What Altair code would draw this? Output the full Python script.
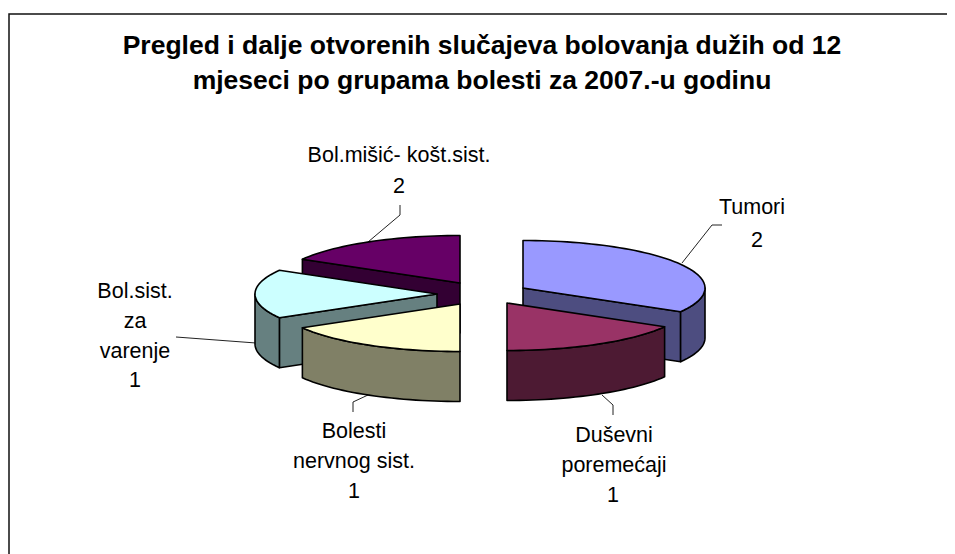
import math
import altair as alt

# ---- data ----
categories = ["Tumori", "Duševni poremećaji", "Bolesti nervnog sist.", "Bol.sist. za varenje", "Bol.mišić- košt.sist."]
printed_values = [2, 1, 1, 1, 2]
# share of the pie each slice really occupies in the picture
drawn_shares = [2, 1, 1, 1, 1]
top_colors = ["#9999FF", "#993366", "#FFFFCC", "#CCFFFF", "#660066"]
side_colors = ["#4D4D80", "#4D1A33", "#808066", "#668080", "#330033"]
apex_x = [523, 507, 460, 437, 460]
apex_y = [288, 303, 304, 294, 283]
paint_order = [4, 0, 3, 2, 1]

title_lines = ["Pregled i dalje otvorenih slučajeva bolovanja dužih od 12",
               "mjeseci po grupama bolesti za 2007.-u godinu"]
title_x = [482, 482]
title_y = [54, 89]

label_text = ["Tumori", "2", "Duševni", "poremećaji", "1", "Bolesti", "nervnog sist.", "1",
              "Bol.sist.", "za", "varenje", "1", "Bol.mišić- košt.sist.", "2"]
label_x = [752, 757, 614, 614, 613, 354, 354, 354, 135, 135, 135, 135, 399, 399]
label_y = [214, 247, 442, 472, 502, 438, 468, 498, 298, 328, 358, 387, 162, 193]

leaders = [
    [(682, 263), (712, 225), (722, 225)],
    [(602, 395), (613, 405), (613, 415)],
    [(368, 395), (353, 402), (353, 412)],
    [(256, 343), (176, 337)],
    [(368, 242), (400, 215), (400, 205)],
]
frame = [[(9, 554), (9, 14), (955, 14)]]

RX, RY, DEPTH = 182, 47.5, 50
W, H = 939, 546


def rim(i, t, dz=0):
    r = math.radians(t)
    return [apex_x[i] + RX * math.sin(r), apex_y[i] - RY * math.cos(r) + dz]


def arc(i, a, b, dz=0):
    n = max(2, int(abs(b - a) / 2))
    return [rim(i, a + (b - a) * k / n, dz) for k in range(n + 1)]


def poly(points, fill):
    return {"type": "Feature", "properties": {"fill": fill},
            "geometry": {"type": "Polygon", "coordinates": [points + [points[0]]]}}


def line(points):
    return {"type": "Feature", "properties": {},
            "geometry": {"type": "LineString", "coordinates": [list(p) for p in points]}}


total = sum(drawn_shares)
starts, s = [], 0.0
for v in drawn_shares:
    starts.append(s)
    s += v / total * 360

shapes = []
for i in paint_order:
    a, b = starts[i], starts[i] + drawn_shares[i] / total * 360
    apex = [apex_x[i], apex_y[i]]
    low = [apex_x[i], apex_y[i] + DEPTH]
    if 180 < a < 360:  # wall along the start edge faces the viewer
        p = rim(i, a)
        shapes.append(poly([apex, p, [p[0], p[1] + DEPTH], low], side_colors[i]))
    if 0 < b < 180:  # wall along the end edge faces the viewer
        p = rim(i, b)
        shapes.append(poly([apex, p, [p[0], p[1] + DEPTH], low], side_colors[i]))
    # visible part of the outer rim
    f0, f1 = max(a, 90), min(b, 270)
    if f1 > f0:
        up = arc(i, f0, f1)
        down = arc(i, f1, f0, DEPTH)
        shapes.append(poly(up + down, side_colors[i]))
    shapes.append(poly([apex] + arc(i, a, b), top_colors[i]))

proj = alt.Projection(type="identity", scale=1, translate=[-8, -8])

pie = (
    alt.Chart(alt.Data(values=shapes))
    .mark_geoshape(stroke="black", strokeWidth=1.6, strokeJoin="round")
    .encode(fill=alt.Fill("properties.fill:N", scale=None))
    .project(**proj.to_dict())
)
thin = (
    alt.Chart(alt.Data(values=[line(p) for p in leaders]))
    .mark_geoshape(filled=False, stroke="#222222", strokeWidth=1)
    .project(**proj.to_dict())
)
border = (
    alt.Chart(alt.Data(values=[line(p) for p in frame]))
    .mark_geoshape(filled=False, stroke="#111111", strokeWidth=1.5)
    .project(**proj.to_dict())
)

X = alt.X("x:Q", axis=None, scale=alt.Scale(domain=[8, 8 + W], range=[0, W]))
Y = alt.Y("y:Q", axis=None, scale=alt.Scale(domain=[8, 8 + H], range=[0, H]))

titles = (
    alt.Chart(alt.Data(values=[{"t": t, "x": x, "y": y} for t, x, y in zip(title_lines, title_x, title_y)]))
    .mark_text(font="Liberation Sans", fontSize=26.5, fontWeight="bold", color="black", align="center", baseline="alphabetic")
    .encode(x=X, y=Y, text="t:N")
)
labels = (
    alt.Chart(alt.Data(values=[{"t": t, "x": x, "y": y} for t, x, y in zip(label_text, label_x, label_y)]))
    .mark_text(font="Liberation Sans", fontSize=21.5, color="black", align="center", baseline="alphabetic")
    .encode(x=X, y=Y, text="t:N")
)

chart = (
    alt.layer(border, thin, pie, titles, labels)
    .properties(width=W, height=H, padding=0, autosize=alt.AutoSizeParams(type="none"),
                background="white")
    .configure_view(stroke=None)
)
chart.save("out.html", embed_options={"renderer": "svg", "actions": False})
